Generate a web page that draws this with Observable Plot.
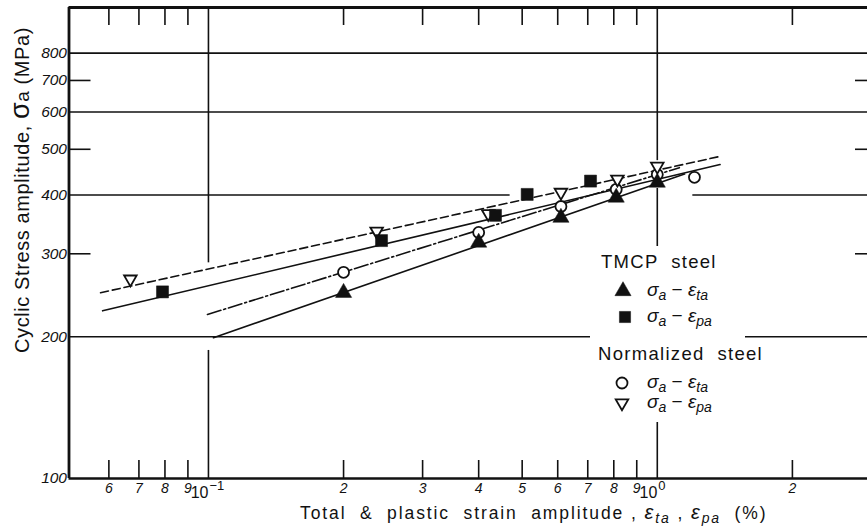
<!DOCTYPE html>
<html><head><meta charset="utf-8">
<script src="https://cdn.jsdelivr.net/npm/d3@7"></script>
<script src="https://cdn.jsdelivr.net/npm/@observablehq/plot@0.6"></script>
<style>
body{margin:0;background:#fff;}
#chart{width:867px;height:528px;}
svg text{white-space:pre;}
</style></head><body><div id="chart"></div>
<script>
// ---- data (strain amplitude in %, stress amplitude in MPa) ----
const tmcpTotalStrain    = [0.20, 0.40, 0.61, 0.81, 1.00];
const tmcpTotalStress    = [248, 317, 358, 395, 425];
const tmcpPlasticStrain  = [0.079, 0.243, 0.436, 0.513, 0.71];
const tmcpPlasticStress  = [249, 320, 362, 401, 428];
const normTotalStrain    = [0.20, 0.40, 0.61, 0.81, 1.00, 1.21];
const normTotalStress    = [274, 333, 378, 411, 442, 436];
const normPlasticStrain  = [0.067, 0.237, 0.42, 0.61, 0.815, 1.00];
const normPlasticStress  = [265, 335, 365, 405, 432, 460];

// fitted lines (end points)
const fitTmcpTotalStrain   = [0.1026, 1.15];
const fitTmcpTotalStress   = [199, 443];
const fitTmcpPlasticStrain = [0.0581, 1.38];
const fitTmcpPlasticStress = [227, 464];
const fitNormTotalStrain   = [0.0995, 1.12];
const fitNormTotalStress   = [223, 457];
const fitNormPlasticStrain = [0.0575, 1.38];
const fitNormPlasticStress = [248, 483];

// ticks
const yTickValues = [100, 200, 300, 400, 500, 600, 700, 800];
const yFullGrid = [200, 600, 800];
const yMinorTicks = [300, 500, 700];
const xMinorTicks = [0.06, 0.07, 0.08, 0.09, 0.2, 0.3, 0.4, 0.5, 0.6, 0.7, 0.8, 0.9, 2];
const xMinorLabels = ["6","7","8","9","2","3","4","5","6","7","8","9","2"];
const xDecades = [0.1, 1];
const xDecadeExp = ["\u22121", "0"];

const toRows = (xs, ys) => xs.map((x, i) => ({x, y: ys[i]}));

// ---- layout ----
const W = 867, H = 528, mL = 68.5, mR = 0, mT = 7, mB = 50;
const fH = H - mT - mB, fW = W - mL - mR;
const xDom = [0.0489, 2.94], yDom = [100, 1000];
const ink = "#111";
const font = "Liberation Sans, Arial, Helvetica, sans-serif";

const plot = Plot.plot({
  width: W, height: H,
  marginLeft: mL, marginRight: mR, marginTop: mT, marginBottom: mB,
  style: {fontFamily: font, background: "#fff", color: ink},
  x: {type: "log", domain: xDom, axis: null},
  y: {type: "log", domain: yDom, axis: null},
  marks: [
    // grid
    Plot.ruleY(yFullGrid, {stroke: ink, strokeWidth: 1.6}),
    Plot.ruleY([400], {x1: xDom[0], x2: 0.47, stroke: ink, strokeWidth: 1.6}),
    Plot.ruleY([400], {x1: 1.2, x2: xDom[1], stroke: ink, strokeWidth: 1.6}),
    Plot.ruleX([0.1], {y1: 100, y2: 187, stroke: ink, strokeWidth: 1.6}),
    Plot.ruleX([0.1], {y1: 287, y2: 1000, stroke: ink, strokeWidth: 1.6}),
    Plot.ruleX([1], {y1: 100, y2: 413, stroke: ink, strokeWidth: 1.6}),
    Plot.ruleX([1], {y1: 473, y2: 1000, stroke: ink, strokeWidth: 1.6}),
    // minor ticks
    Plot.ruleX(xMinorTicks, {insetTop: fH - 18, stroke: ink, strokeWidth: 1.6}),
    Plot.ruleX(xMinorTicks, {insetBottom: fH - 18, stroke: ink, strokeWidth: 1.6}),
    Plot.ruleY(yMinorTicks, {insetRight: fW - 22, stroke: ink, strokeWidth: 1.6}),
    Plot.ruleY(yMinorTicks, {insetLeft: fW - 12, stroke: ink, strokeWidth: 1.6}),
    // frame
    Plot.ruleX([xDom[0]], {stroke: ink, strokeWidth: 2.8}),
    Plot.ruleY([100], {stroke: ink, strokeWidth: 2.4}),
    Plot.ruleY([1000], {stroke: ink, strokeWidth: 2.8}),
    // tick labels
    Plot.text(yTickValues, {y: d => d, text: d => String(d), frameAnchor: "left", textAnchor: "end", dx: -2, fontStyle: "italic", fontSize: 15.5}),
    Plot.text(xMinorTicks, {x: d => d, text: (d, i) => xMinorLabels[i], frameAnchor: "bottom", dy: 14, fontStyle: "italic", fontSize: 14}),
    Plot.text(xDecades, {x: d => d, text: () => "10", frameAnchor: "bottom", textAnchor: "end", dy: 19, fontSize: 16, letterSpacing: -0.8}),
    Plot.text(xDecades, {x: d => d, text: (d, i) => xDecadeExp[i], frameAnchor: "bottom", textAnchor: "start", dx: 1, dy: 11, fontSize: 13}),
    // fitted lines
    Plot.line(toRows(fitNormPlasticStrain, fitNormPlasticStress), {x: "x", y: "y", stroke: ink, strokeWidth: 1.6, strokeDasharray: "8,4"}),
    Plot.line(toRows(fitTmcpPlasticStrain, fitTmcpPlasticStress), {x: "x", y: "y", stroke: ink, strokeWidth: 1.6}),
    Plot.line(toRows(fitNormTotalStrain, fitNormTotalStress), {x: "x", y: "y", stroke: ink, strokeWidth: 1.6, strokeDasharray: "14,3,2,3"}),
    Plot.line(toRows(fitTmcpTotalStrain, fitTmcpTotalStress), {x: "x", y: "y", stroke: ink, strokeWidth: 1.6}),
    // points
    Plot.dot(toRows(normTotalStrain, normTotalStress), {x: "x", y: "y", symbol: "circle", r: 5.5, fill: "#fff", stroke: ink, strokeWidth: 1.8}),
    Plot.dot(toRows(tmcpTotalStrain, tmcpTotalStress), {x: "x", y: "y", symbol: "triangle", r: 6, fill: ink, stroke: ink, strokeWidth: 0.5}),
    Plot.dot(toRows(normPlasticStrain, normPlasticStress), {x: "x", y: "y", symbol: "triangle2", rotate: 180, r: 6, fill: "#fff", stroke: ink, strokeWidth: 1.8}),
    Plot.dot(toRows(tmcpPlasticStrain, tmcpPlasticStress), {x: "x", y: "y", symbol: "square", r: 6.8, fill: ink, stroke: ink, strokeWidth: 0.5})
  ]
});
document.getElementById("chart").appendChild(plot);

// ---- titles & legend ----
const svg = d3.select(plot);
const NS = (sel, txt, opts = {}) => {
  const t = sel.append("tspan").text(txt);
  Object.entries(opts).forEach(([k, v]) => t.attr(k, v));
  return t;
};

// Y title
const yt = svg.append("text").attr("transform", "translate(29,190) rotate(-90)")
  .attr("text-anchor", "middle").attr("font-size", 20).attr("letter-spacing", 0.6).attr("fill", ink);
NS(yt, "Cyclic Stress amplitude, ");
NS(yt, "\u03c3", {"font-size": 27});
NS(yt, "a", {"font-size": 19});
NS(yt, " (MPa)");

// X title
const xt = svg.append("text").attr("x", 300).attr("y", 519).attr("text-anchor", "start")
  .attr("font-size", 17.5).attr("letter-spacing", 1.9).attr("fill", ink);
NS(xt, "Total  &  plastic  strain  amplitude , ");
NS(xt, "\u03b5", {"font-style": "italic", "font-size": 20});
NS(xt, "ta", {"font-style": "italic", "font-size": 14, dy: 4});
NS(xt, " , ", {dy: -4});
NS(xt, "\u03b5", {"font-style": "italic", "font-size": 20});
NS(xt, "pa", {"font-style": "italic", "font-size": 14, dy: 4});
NS(xt, "  (%)", {dy: -4});

// Legend
const lg = svg.append("g").attr("font-family", font).attr("fill", ink).attr("text-anchor", "start");
lg.append("rect").attr("x", 590).attr("y", 246).attr("width", 155).attr("height", 176).attr("fill", "#fff");
const head = (x, y, txt) => lg.append("text").attr("x", x).attr("y", y).attr("text-anchor", "start")
  .attr("font-size", 18.5).attr("letter-spacing", 1.3).text(txt);
head(601, 268, "TMCP  steel");
head(598, 360, "Normalized  steel");
const entry = (y, sub) => {
  const t = lg.append("text").attr("x", 647).attr("y", y).attr("text-anchor", "start").attr("font-size", 19);
  NS(t, "\u03c3", {"font-style": "italic"});
  NS(t, "a", {"font-style": "italic", "font-size": 14, dy: 4});
  NS(t, " \u2212 ", {dy: -4});
  NS(t, "\u03b5", {"font-style": "italic"});
  NS(t, sub, {"font-style": "italic", "font-size": 14, dy: 4});
};
const sym = (type, r, cx, cy, fill, rot) => lg.append("path")
  .attr("d", d3.symbol(type, Math.PI * r * r)())
  .attr("transform", `translate(${cx},${cy}) rotate(${rot || 0})`)
  .attr("fill", fill).attr("stroke", ink).attr("stroke-width", fill === "#fff" ? 1.8 : 0.5);
sym(d3.symbolTriangle, 6, 623, 291, ink);
entry(296, "ta");
sym(d3.symbolSquare, 6.3, 625, 317, ink);
entry(322, "pa");
sym(d3.symbolCircle, 5.5, 622, 383, "#fff");
entry(388, "ta");
sym(d3.symbolTriangle2, 6, 622, 403, "#fff", 180);
entry(408, "pa");
</script></body></html>
